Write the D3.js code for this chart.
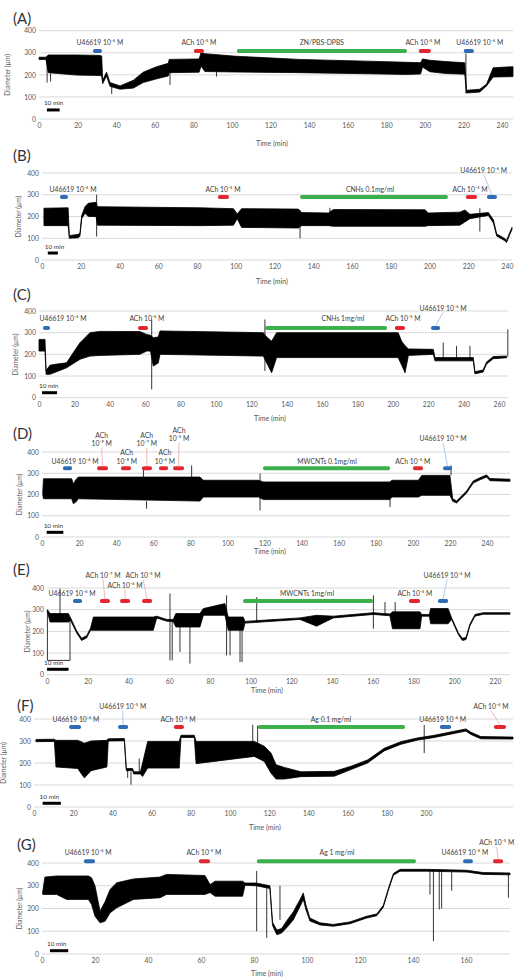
<!DOCTYPE html>
<html>
<head>
<meta charset="utf-8">
<script src="https://cdn.jsdelivr.net/npm/d3@7"></script>
<style>
  body { margin: 0; background: #fff; }
  svg { display: block; font-family: Lato, 'Liberation Sans', Arial, sans-serif; }
</style>
</head>
<body>
<svg id="fig" width="522" height="978"></svg>
<script>
// shared y ticks, diameter in µm
var diameterTicks = [0, 100, 200, 300, 400]

// traces are [time (min), lower envelope, upper envelope]
// spikes are [time, from, to], events are [start, end, drug, label, label at, tier]
// scale bars are [start, length (min), level]

// (A)
var timeTicksA = [0, 20, 40, 60, 80, 100, 120, 140, 160, 180, 200, 220, 240]
var traceA = [
  [0, 270, 280], [3.6, 270, 280], [4.8, 210, 290], [19.5, 199, 290], [31.6, 197, 288],
  [32.5, 195, 285], [33, 160, 175], [35, 195, 212], [36.8, 148, 165], [42, 135, 150],
  [48.9, 140, 175], [54, 165, 212], [61, 182, 237], [67, 195, 252], [67.5, 210, 270],
  [83, 212, 272], [84, 240, 300], [86, 215, 296], [100.7, 213, 285], [135, 210, 270],
  [170, 205, 262], [190.5, 202, 257], [197.8, 204, 255], [198.8, 235, 272], [202.6, 214, 266],
  [211, 206, 260], [220.7, 203, 255], [221.6, 118, 130], [228.5, 122, 135], [232, 150, 158],
  [235.4, 190, 232], [245.7, 192, 237]
]
var spikesA = [[4.2, 275, 165], [6, 280, 170], [37.7, 150, 113], [67.9, 260, 154], [92, 240, 192], [221.3, 297, 116]]
var eventsA = [
  [28, 32.6, 'U46619', 'U46619 10⁻⁶ M', 31.6, 0],
  [80.3, 85.5, 'ACh', 'ACh 10⁻⁵ M', 82.9, 0],
  [102.6, 190.7, 'NP', 'ZN/PBS-DPBS', 146.6, 0],
  [196.9, 203.1, 'ACh', 'ACh 10⁻⁵ M', 199, 0],
  [220.2, 225.4, 'U46619', 'U46619 10⁻⁶ M', 228.5, 0]
]
var scaleBarA = [4.1, 6.6, 41]

// (B)
var timeTicksB = [0, 20, 40, 60, 80, 100, 120, 140, 160, 180, 200, 220, 240]
var traceB = [
  [1, 158, 238], [13.5, 158, 240], [14.1, 100, 112], [18.75, 102, 118], [19.6, 110, 125],
  [20.5, 190, 205], [22.2, 215, 245], [23.9, 200, 261], [27.9, 200, 265], [28.6, 160, 245],
  [81.5, 158, 240], [98.8, 160, 236], [100.8, 190, 212], [103, 150, 236], [132.3, 147, 234],
  [134, 158, 218], [147.8, 158, 216], [150.4, 155, 232], [197.7, 155, 231], [199.4, 158, 216],
  [215.7, 160, 220], [218.3, 175, 230], [220.9, 190, 210], [230.4, 205, 218], [233, 170, 185],
  [234.7, 110, 120], [239, 88, 98], [239.8, 80, 90], [241.5, 118, 128], [242.6, 140, 150]
]
var spikesB = [[28.2, 300, 108], [133.2, 230, 100], [148.6, 240, 200], [226, 238, 131]]
var eventsB = [
  [9.3, 13.4, 'U46619', 'U46619 10⁻⁶ M', 16, 0],
  [90.8, 96.5, 'ACh', 'ACh 10⁻⁵ M', 93.4, 0],
  [133.2, 209.5, 'NP', 'CNHs 0.1mg/ml', 169.3, 0],
  [218.8, 224.5, 'ACh', 'ACh 10⁻⁵ M', 220.9, 0],
  [229.7, 234.8, 'U46619', 'U46619 10⁻⁶ M', 228, 1]
]
var scaleBarB = [3, 5.2, 32]

// (C)
var timeTicksC = [0, 20, 40, 60, 80, 100, 120, 140, 160, 180, 200, 220, 240, 260]
var traceC = [
  [0, 215, 269], [3.4, 215, 269], [4, 108, 125], [6.2, 108, 150], [10, 120, 155],
  [15.6, 138, 161], [19.4, 158, 208], [23.2, 177, 254], [28.8, 192, 300], [34.5, 195, 306],
  [57, 200, 305], [60.9, 215, 292], [63, 215, 288], [64.6, 146, 277], [67.4, 160, 280],
  [68.4, 200, 308], [126.8, 192, 300], [128.7, 160, 280], [131.5, 115, 261], [134.3, 185, 300],
  [203, 185, 300], [205, 150, 260], [206.9, 115, 240], [208.8, 195, 225], [222.9, 200, 223],
  [223.8, 170, 185], [245.5, 170, 185], [246.4, 110, 120], [251, 118, 128], [253, 155, 165],
  [256.8, 180, 190], [264.3, 184, 192]
]
var spikesC = [[63.7, 361, 38], [127.7, 361, 123], [228.5, 185, 254], [236, 185, 239], [243.6, 185, 239], [265, 190, 315]]
var eventsC = [
  [2.3, 6.2, 'U46619', 'U46619 10⁻⁶ M', 13.6, 0],
  [56, 61.6, 'ACh', 'ACh 10⁻⁵ M', 61, 0],
  [127.8, 196.7, 'NP', 'CNHs 1mg/ml', 171.8, 0],
  [201.2, 206.9, 'ACh', 'ACh 10⁻⁵ M', 205.8, 0],
  [221.6, 226.7, 'U46619', 'U46619 10⁻⁶ M', 228.4, 1]
]
var scaleBarC = [1.7, 8.5, 23]

// (D)
var timeTicksD = [0, 20, 40, 60, 80, 100, 120, 140, 160, 180, 200, 220, 240]
var traceD = [
  [0.4, 200, 210], [0.8, 180, 274], [16, 180, 274], [16.9, 157, 250], [18.3, 165, 270],
  [19.6, 180, 282], [85.2, 169, 282], [87, 188, 267], [116.7, 188, 267], [119.4, 176, 259],
  [187.7, 176, 259], [188.6, 188, 267], [203, 188, 267], [204.8, 196, 290], [220, 196, 290],
  [221.5, 168, 180], [223.6, 160, 170], [226.3, 183, 193], [229, 207, 217], [232.6, 254, 264],
  [236.2, 269, 279], [239.8, 282, 292], [241.6, 265, 275], [252.4, 262, 272]
]
var spikesD = [[54.7, 282, 329], [56.4, 169, 133], [80.7, 282, 337], [117.6, 298, 125], [187.7, 176, 141], [220.6, 290, 337]]
var eventsD = [
  [11.3, 16.2, 'U46619', 'U46619 10⁻⁶ M', 17.8, 0],
  [29.7, 35.6, 'ACh', 'ACh\n10⁻⁹ M', 32.2, 2],
  [42.6, 48, 'ACh', 'ACh\n10⁻⁸ M', 45.7, 0],
  [53.9, 59.3, 'ACh', 'ACh\n10⁻⁷ M', 56.5, 2],
  [63.1, 68, 'ACh', 'ACh\n10⁻⁶ M', 66.3, 0],
  [70.7, 76.6, 'ACh', 'ACh\n10⁻⁵ M', 73.9, 3],
  [119.2, 187.7, 'NP', 'MWCNTs 0.1mg/ml', 153.7, 0],
  [200.1, 205.5, 'ACh', 'ACh 10⁻⁵ M', 200, 0],
  [216.3, 221.1, 'U46619', 'U46619 10⁻⁶ M', 216.3, 3]
]
var scaleBarD = [2.5, 9, 22]

// (E)
var timeTicksE = [0, 20, 40, 60, 80, 100, 120, 140, 160, 180, 200, 220]
var traceE = [
  [0.2, 290, 300], [1.5, 243, 282], [10.5, 243, 282], [11.6, 250, 262], [14.6, 192, 202],
  [17, 158, 168], [19.5, 170, 180], [21.4, 205, 215], [22.8, 205, 266], [52.2, 205, 266],
  [53.9, 262, 270], [58.8, 247, 255], [62, 245, 255], [63.3, 220, 282], [75.1, 220, 282],
  [76.8, 274, 305], [87.4, 274, 328], [89, 205, 266], [96.4, 205, 266], [97.2, 238, 246],
  [124.2, 255, 262], [132.4, 224, 274], [140.6, 262, 270], [160.3, 278, 286], [168.4, 272, 280],
  [169.7, 212, 290], [183.2, 212, 290], [184, 270, 278], [187.8, 270, 278], [188.4, 235, 305],
  [197, 235, 305], [198.7, 255, 263], [202, 186, 194], [204, 158, 168], [205.8, 162, 172],
  [207.7, 225, 233], [210.2, 270, 278], [214.3, 279, 286], [227.4, 279, 286]
]
var spikesE = [
  [6.4, 282, 397], [60.4, 374, 66], [61.5, 250, 66], [65.3, 220, 105], [70.2, 220, 51],
  [88.2, 366, 89], [89.9, 205, 89], [94.8, 205, 58], [95.8, 205, 58], [103, 243, 358],
  [160.3, 366, 212], [166, 280, 335], [171, 289, 335]
]
var dropoutE = [[0.2, 297], [0.2, 66], [11.3, 66], [11.3, 255]]
var eventsE = [
  [12.8, 17.2, 'U46619', 'U46619 10⁻⁶ M', 12.3, 0],
  [26, 30.9, 'ACh', 'ACh 10⁻⁷ M', 27.5, 2],
  [35.9, 40.8, 'ACh', 'ACh 10⁻⁶ M', 38.3, 1],
  [46.7, 51.6, 'ACh', 'ACh 10⁻⁵ M', 47.2, 2],
  [96.3, 160.1, 'NP', 'MWCNTs 1mg/ml', 127.7, 0],
  [177.8, 183.2, 'ACh', 'ACh 10⁻⁵ M', 180.7, 0],
  [192, 197, 'U46619', 'U46619 10⁻⁶ M', 196.5, 2]
]
var scaleBarE = [0, 10.6, 25]

// (F)
var timeTicksF = [0, 20, 40, 60, 80, 100, 120, 140, 160, 180, 200]
var traceF = [
  [1, 297, 307], [10.4, 298, 308], [11.2, 182, 303], [22.3, 175, 303], [25.7, 132, 290],
  [29.1, 165, 300], [37.2, 182, 303], [37.9, 300, 310], [46.1, 301, 311], [47.1, 165, 175],
  [50.3, 165, 175], [50.9, 150, 160], [54.3, 150, 160], [55.4, 139, 200], [58, 177, 298],
  [74.1, 177, 298], [75, 316, 326], [81.8, 316, 326], [82.7, 197, 298], [112.4, 230, 298],
  [117.5, 207, 276], [120.9, 154, 246], [123.5, 127, 192], [127.7, 127, 180], [136.2, 138, 160],
  [153.2, 140, 162], [161.7, 170, 185], [170.2, 200, 214], [178.7, 255, 267], [187.2, 285, 297],
  [195.7, 304, 314], [204.3, 316, 326], [220.4, 345, 355], [222.9, 330, 340], [228, 310, 320],
  [244.4, 309, 318]
]
var spikesF = [[47.8, 170, 132], [49.5, 160, 101], [53.7, 160, 220], [111.6, 298, 374], [114.1, 250, 370], [199.1, 373, 245]]
var eventsF = [
  [17.9, 24, 'U46619', 'U46619 10⁻⁶ M', 21.4, 0],
  [42.9, 48, 'U46619', 'U46619 10⁻⁵ M', 45.3, 1],
  [71.4, 76.5, 'ACh', 'ACh 10⁻⁵ M', 73.5, 0],
  [114.3, 189.3, 'NP', 'Ag 0.1 mg/ml', 151.5, 0],
  [207.1, 212.8, 'U46619', 'U46619 10⁻⁶ M', 208.5, 0],
  [234.7, 240.8, 'ACh', 'ACh 10⁻⁶ M', 233.2, 1]
]
var scaleBarF = [4.4, 9.3, 17]

// (G)
var timeTicksG = [0, 20, 40, 60, 80, 100, 120, 140, 160]
var traceG = [
  [0.25, 262, 272], [1.1, 262, 338], [5.5, 262, 343], [9.3, 240, 343], [17.5, 240, 343],
  [18.7, 218, 335], [20, 166, 300], [21.9, 137, 188], [23.8, 144, 230], [25.7, 181, 284],
  [28.2, 203, 313], [34.5, 240, 330], [44.5, 247, 338], [47, 262, 350], [61.5, 262, 345],
  [63.4, 270, 305], [65.3, 254, 320], [75.7, 254, 320], [76.6, 302, 312], [80.8, 300, 312],
  [86, 288, 300], [87, 125, 140], [88.6, 85, 105], [90.4, 92, 112], [92.3, 115, 145],
  [94.8, 150, 185], [97.4, 210, 240], [98.6, 240, 268], [99.6, 195, 215], [101.1, 145, 158],
  [104.9, 128, 137], [109.9, 122, 130], [116.2, 133, 141], [122.5, 158, 166], [126.3, 168, 176],
  [128.8, 206, 214], [130.7, 280, 288], [132.6, 346, 354], [135.1, 364, 372], [145.2, 364, 372],
  [160.3, 360, 368], [166.5, 350, 358], [176.6, 348, 356]
]
var spikesG = [
  [81, 365, 100], [84.8, 300, 71], [89.8, 150, 300], [146.4, 368, 262], [147.7, 368, 56],
  [149.9, 368, 196], [150.8, 368, 200], [154.6, 368, 278], [176, 355, 247]
]
var eventsG = [
  [15.8, 20, 'U46619', 'U46619 10⁻⁶ M', 17.4, 0],
  [59.2, 63.4, 'ACh', 'ACh 10⁻⁵ M', 61.1, 0],
  [81.1, 141.1, 'NP', 'Ag 1 mg/ml', 111.3, 0],
  [158.9, 162.6, 'U46619', 'U46619 10⁻⁶ M', 159.6, 0],
  [170.2, 174, 'ACh', 'ACh 10⁻⁵ M', 171.6, 1]
]
var scaleBarG = [3, 6.9, 14.5]

var eventColors = { U46619: '#2e6cb5', ACh: '#e3262f', NP: '#3cb04a' }
var leaderColors = { U46619: '#8fb4e0', ACh: '#f09a9a', NP: '#9ad6a2' }

// page layout of the seven panels
var panels = [
  { name: '(A)', trace: traceA, spikes: spikesA, events: eventsA, ticks: timeTicksA, scaleBar: scaleBarA,
    top: 30.7, bottom: 119, left: 39, right: 513, xMax: 245.7, barY: 20.3, tiers: [6],
    letter: [13, 24], xTitle: [272, 146], yTitleX: 10 },
  { name: '(B)', trace: traceB, spikes: spikesB, events: eventsB, ticks: timeTicksB, scaleBar: scaleBarB,
    top: 173, bottom: 260, left: 42, right: 512, xMax: 242.6, barY: 24, tiers: [5, 24],
    letter: [13, 161], xTitle: [272, 284], yTitleX: 21 },
  { name: '(C)', trace: traceC, spikes: spikesC, events: eventsC, ticks: timeTicksC, scaleBar: scaleBarC,
    top: 311, bottom: 397.7, left: 39, right: 508, xMax: 265.1, barY: 17, tiers: [7, 17],
    letter: [13, 300], xTitle: [270, 421], yTitleX: 18 },
  { name: '(D)', trace: traceD, spikes: spikesD, events: eventsD, ticks: timeTicksD, scaleBar: scaleBarD,
    top: 452, bottom: 537, left: 42, right: 510, xMax: 252.4, barY: 16.3, tiers: [4.5, 13, 22, 27],
    letter: [13, 439], xTitle: [270, 554], yTitleX: 22 },
  { name: '(E)', trace: traceE, spikes: spikesE, events: eventsE, ticks: timeTicksE, scaleBar: scaleBarE,
    top: 588, bottom: 674.7, left: 47, right: 510, xMax: 227.4, barY: 13, tiers: [5, 13, 23],
    letter: [13, 575], xTitle: [267, 693], yTitleX: 30, dropout: dropoutE },
  { name: '(F)', trace: traceF, spikes: spikesF, events: eventsF, ticks: timeTicksF, scaleBar: scaleBarF,
    top: 719, bottom: 807, left: 34, right: 513, xMax: 244.4, barY: 8, tiers: [5, 18],
    letter: [17, 711], xTitle: [265, 830], yTitleX: 6 },
  { name: '(G)', trace: traceG, spikes: spikesG, events: eventsG, ticks: timeTicksG, scaleBar: scaleBarG,
    top: 863, bottom: 954, left: 42, right: 510, xMax: 176.6, barY: -1.7, tiers: [6, 16],
    letter: [17, 850], xTitle: [267, 976], yTitleX: 22 }
]

var svg = d3.select('#fig')
panels.forEach(drawPanel)

function drawPanel (p) {
  var g = svg.append('g')
  var x = d3.scaleLinear().domain([0, p.xMax]).range([p.left, p.right])
  var y = d3.scaleLinear().domain([0, 400]).range([p.bottom, p.top])

  // gridlines
  g.append('g')
    .selectAll('line')
    .data(diameterTicks)
    .join('line')
    .attr('x1', p.left)
    .attr('x2', p.right)
    .attr('y1', function (d) { return y(d) })
    .attr('y2', function (d) { return y(d) })
    .attr('stroke', '#d9d9d9')
    .attr('stroke-width', 1)

  // axes, labels only
  var yAxis = g.append('g')
    .attr('transform', 'translate(' + p.left + ',0)')
    .call(d3.axisLeft(y).tickValues(diameterTicks).tickSize(0).tickPadding(3))
  var xAxis = g.append('g')
    .attr('transform', 'translate(0,' + p.bottom + ')')
    .call(d3.axisBottom(x).tickValues(p.ticks).tickSize(0).tickPadding(4.5))
  ;[yAxis, xAxis].forEach(function (a) {
    a.select('.domain').remove()
    a.attr('font-family', null).attr('font-size', 6.8).attr('color', '#595959')
  })

  g.append('text')
    .attr('x', p.xTitle[0])
    .attr('y', p.xTitle[1])
    .attr('text-anchor', 'middle')
    .attr('font-size', 7)
    .attr('fill', '#595959')
    .text('Time (min)')
  g.append('text')
    .attr('transform', 'translate(' + p.yTitleX + ',' + (p.top + p.bottom) / 2 + ') rotate(-90)')
    .attr('text-anchor', 'middle')
    .attr('font-size', 6.6)
    .attr('fill', '#595959')
    .text('Diameter (µm)')

  g.append('text')
    .attr('x', p.letter[0])
    .attr('y', p.letter[1])
    .attr('font-size', 15)
    .attr('fill', '#333')
    .text(p.name)

  // recording
  var area = d3.area()
    .x(function (d) { return x(d[0]) })
    .y0(function (d) { return y(d[1]) })
    .y1(function (d) { return y(d[2]) })
  g.append('path')
    .datum(p.trace)
    .attr('d', area)
    .attr('fill', '#000')
    .attr('stroke', '#000')
    .attr('stroke-width', 0.8)
    .attr('stroke-linejoin', 'round')

  g.append('g')
    .selectAll('line')
    .data(p.spikes)
    .join('line')
    .attr('x1', function (d) { return x(d[0]) })
    .attr('x2', function (d) { return x(d[0]) })
    .attr('y1', function (d) { return y(d[1]) })
    .attr('y2', function (d) { return y(d[2]) })
    .attr('stroke', '#000')
    .attr('stroke-width', 0.8)

  if (p.dropout) {
    var line = d3.line()
      .x(function (d) { return x(d[0]) })
      .y(function (d) { return y(d[1]) })
    g.append('path')
      .datum(p.dropout)
      .attr('d', line)
      .attr('fill', 'none')
      .attr('stroke', '#000')
      .attr('stroke-width', 0.8)
  }

  // scale bar
  var sb = p.scaleBar
  g.append('rect')
    .attr('x', x(sb[0]))
    .attr('y', y(sb[2]) - 1.5)
    .attr('width', x(sb[0] + sb[1]) - x(sb[0]))
    .attr('height', 3)
    .attr('fill', '#000')
  g.append('text')
    .attr('x', x(sb[0]) - 3)
    .attr('y', y(sb[2]) - 4.5)
    .attr('font-size', 6.4)
    .attr('fill', '#333')
    .text('10 min')

  // drug application bars
  var barMid = p.top + p.barY
  p.events.forEach(function (e) {
    var x0 = x(e[0])
    var x1 = x(e[1])
    var lift = p.tiers[e[5]]
    var baseline = barMid - lift
    g.append('rect')
      .attr('x', x0)
      .attr('y', barMid - 2)
      .attr('width', x1 - x0)
      .attr('height', 4)
      .attr('rx', 1.8)
      .attr('fill', eventColors[e[2]])
    if (lift > 12) {
      g.append('line')
        .attr('x1', x(e[4]))
        .attr('y1', baseline + 1.5)
        .attr('x2', (x0 + x1) / 2)
        .attr('y2', barMid - 2)
        .attr('stroke', leaderColors[e[2]])
        .attr('stroke-width', 0.7)
    }
    addLabel(g, e[3], x(e[4]), baseline)
  })
}

function addLabel (g, text, cx, baseline) {
  var lines = text.split('\n')
  var t = g.append('text')
    .attr('text-anchor', 'middle')
    .attr('font-size', 6.8)
    .attr('fill', '#404040')
  lines.forEach(function (line, i) {
    t.append('tspan')
      .attr('x', cx)
      .attr('y', baseline - (lines.length - 1 - i) * 8.5)
      .text(line)
  })
}
</script>
</body>
</html>
